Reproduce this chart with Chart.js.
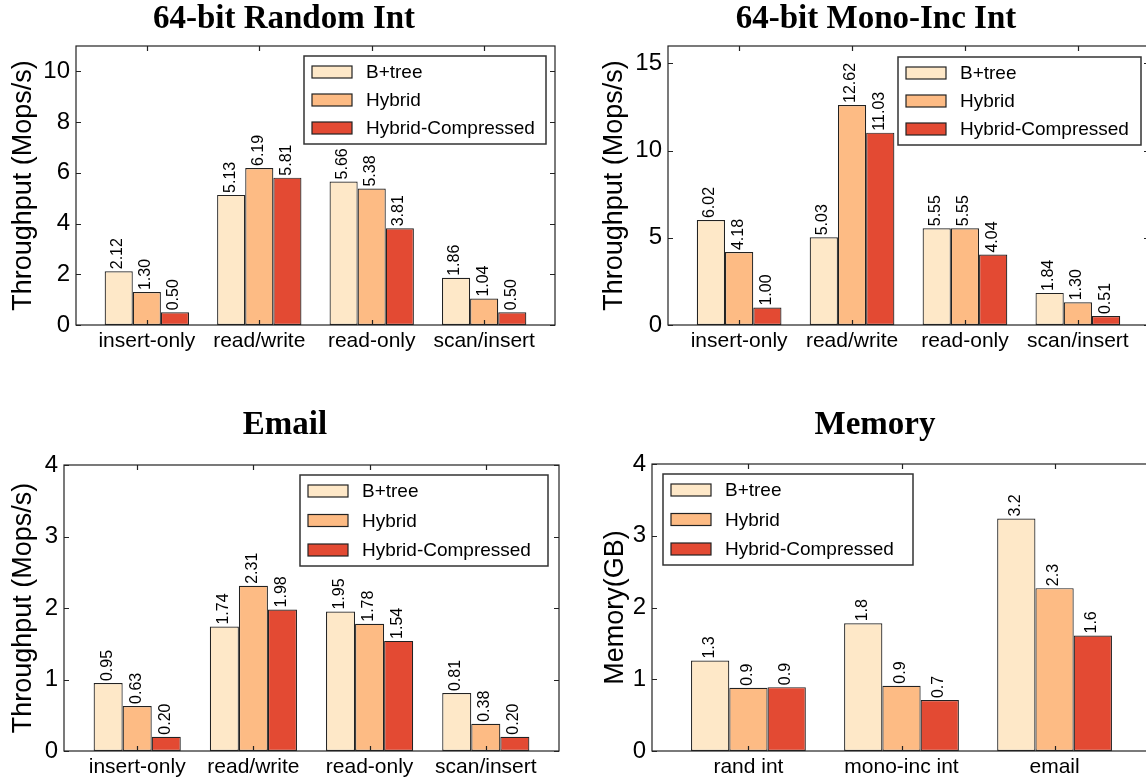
<!DOCTYPE html>
<html>
<head>
<meta charset="utf-8">
<script src="https://cdn.jsdelivr.net/npm/chart.js@4.4.0/dist/chart.umd.min.js"></script>
<style>
  html, body { margin: 0; padding: 0; background: #fff; overflow: hidden; width: 1146px; height: 777px; }
  canvas { position: absolute; }
</style>
</head>
<body>
<canvas id="c1"></canvas>
<canvas id="c2"></canvas>
<canvas id="c3"></canvas>
<canvas id="c4"></canvas>
<script>
// series
const seriesNames = ['B+tree', 'Hybrid', 'Hybrid-Compressed'];
const seriesColors = ['#fee8c8', '#fdbb84', '#e34a33'];

// categories
const workloads = ['insert-only', 'read/write', 'read-only', 'scan/insert'];
const memoryKeys = ['rand int', 'mono-inc int', 'email'];

// 64-bit random int throughput
const randBtree = [2.12, 5.13, 5.66, 1.86];
const randHybrid = [1.30, 6.19, 5.38, 1.04];
const randCompressed = [0.50, 5.81, 3.81, 0.50];

// 64-bit mono-inc int throughput
const monoBtree = [6.02, 5.03, 5.55, 1.84];
const monoHybrid = [4.18, 12.62, 5.55, 1.30];
const monoCompressed = [1.00, 11.03, 4.04, 0.51];

// email throughput
const emailBtree = [0.95, 1.74, 1.95, 0.81];
const emailHybrid = [0.63, 2.31, 1.78, 0.38];
const emailCompressed = [0.20, 1.98, 1.54, 0.20];

// memory (GB)
const memBtree = [1.26, 1.78, 3.24];
const memHybrid = [0.88, 0.91, 2.27];
const memCompressed = [0.89, 0.71, 1.61];

// y tick labels
const yTicksRand = [0, 2, 4, 6, 8, 10];
const yTicksMono = [0, 5, 10, 15];
const yTicksEmail = [0, 1, 2, 3, 4];
const yTicksMem = [0, 1, 2, 3, 4];

const SANS = '"Liberation Sans", Arial, sans-serif';
const SERIF = '"Liberation Serif", "Times New Roman", serif';

const panels = [
    {
        id: 'c1', title: '64-bit Random Int', yTitle: 'Throughput (Mops/s)',
        cats: workloads, series: [randBtree, randHybrid, randCompressed],
        yMax: 11, yTicks: yTicksRand, digits: 2,
        box: { left: 0, top: 0, width: 573, height: 390 },
        area: { left: 76, top: 46, right: 555, bottom: 325 },
        titleX: 284, titleY: 28, yTitleX: 24,
        legend: { x: 304, y: 56, w: 242, h: 88 },
    },
    {
        id: 'c2', title: '64-bit Mono-Inc Int', yTitle: 'Throughput (Mops/s)',
        cats: workloads, series: [monoBtree, monoHybrid, monoCompressed],
        yMax: 16, yTicks: yTicksMono, digits: 2,
        box: { left: 573, top: 0, width: 590, height: 390 },
        area: { left: 95, top: 46, right: 576, bottom: 325 },
        titleX: 303, titleY: 28, yTitleX: 42,
        legend: { x: 325, y: 57, w: 243, h: 88 },
    },
    {
        id: 'c3', title: 'Email', yTitle: 'Throughput (Mops/s)',
        cats: workloads, series: [emailBtree, emailHybrid, emailCompressed],
        yMax: 4, yTicks: yTicksEmail, digits: 2,
        box: { left: 0, top: 390, width: 573, height: 387 },
        area: { left: 64, top: 75, right: 559, bottom: 361 },
        titleX: 285, titleY: 44, yTitleX: 24,
        legend: { x: 300, y: 85, w: 248, h: 91 },
    },
    {
        id: 'c4', title: 'Memory', yTitle: 'Memory(GB)',
        cats: memoryKeys, series: [memBtree, memHybrid, memCompressed],
        yMax: 4, yTicks: yTicksMem, digits: 1,
        box: { left: 573, top: 390, width: 590, height: 387 },
        area: { left: 79, top: 74, right: 578, bottom: 361 },
        titleX: 302, titleY: 44, yTitleX: 43,
        legend: { x: 90, y: 84, w: 250, h: 91 },
    },
];

// frame, inward ticks, value labels, legend and title
const decorPlugin = {
    id: 'decor',
    afterDatasetsDraw(chart) {
        const p = chart.options.plugins.decor;
        const ctx = chart.ctx;
        ctx.save();
        ctx.fillStyle = '#000';
        ctx.font = '16px ' + SANS;
        ctx.textAlign = 'left';
        ctx.textBaseline = 'middle';
        chart.data.datasets.forEach((ds, i) => {
            chart.getDatasetMeta(i).data.forEach((bar, j) => {
                ctx.save();
                ctx.translate(bar.x - 1, bar.y - 2);
                ctx.rotate(-Math.PI / 2);
                ctx.fillText(ds.data[j].y.toFixed(p.digits), 0, 0);
                ctx.restore();
            });
        });
        ctx.restore();
    },
    afterDraw(chart) {
        const p = chart.options.plugins.decor;
        const ctx = chart.ctx;
        const a = chart.chartArea;
        const xs = chart.scales.x;
        const ys = chart.scales.y;
        ctx.save();
        ctx.strokeStyle = '#222';
        ctx.lineWidth = 1.2;
        ctx.strokeRect(a.left, a.top, a.right - a.left, a.bottom - a.top);
        ctx.beginPath();
        ys.ticks.forEach((t) => {
            const py = Math.round(ys.getPixelForValue(t.value)) + 0.5;
            ctx.moveTo(a.left, py); ctx.lineTo(a.left + 5, py);
            ctx.moveTo(a.right, py); ctx.lineTo(a.right - 5, py);
        });
        xs.ticks.forEach((t) => {
            const px = Math.round(xs.getPixelForValue(t.value)) + 0.5;
            ctx.moveTo(px, a.bottom); ctx.lineTo(px, a.bottom - 5);
            ctx.moveTo(px, a.top); ctx.lineTo(px, a.top + 5);
        });
        ctx.stroke();

        // legend
        const L = p.legend;
        ctx.fillStyle = '#fff';
        ctx.fillRect(L.x, L.y, L.w, L.h);
        ctx.strokeStyle = '#333';
        ctx.lineWidth = 1.5;
        ctx.strokeRect(L.x, L.y, L.w, L.h);
        const step = (L.h - 32) / 2;
        chart.data.datasets.forEach((ds, i) => {
            const cy = L.y + 16 + i * step;
            ctx.fillStyle = ds.backgroundColor;
            ctx.fillRect(L.x + 8, cy - 6, 40, 12);
            ctx.strokeStyle = '#222';
            ctx.lineWidth = 1.2;
            ctx.strokeRect(L.x + 8, cy - 6, 40, 12);
            ctx.fillStyle = '#000';
            ctx.font = '19px ' + SANS;
            ctx.textAlign = 'left';
            ctx.textBaseline = 'middle';
            ctx.fillText(ds.label, L.x + 62, cy + 1);
        });

        // title
        ctx.fillStyle = '#000';
        ctx.font = 'bold 33px ' + SERIF;
        ctx.textAlign = 'center';
        ctx.textBaseline = 'alphabetic';
        ctx.fillText(p.title, p.titleX, p.titleY);
        ctx.restore();
    },
};

panels.forEach((p) => {
    const canvas = document.getElementById(p.id);
    canvas.width = p.box.width;
    canvas.height = p.box.height;
    canvas.style.left = p.box.left + 'px';
    canvas.style.top = p.box.top + 'px';

    const yTitleSize = 27;
    new Chart(canvas, {
        type: 'bar',
        data: {
            datasets: p.series.map((vals, i) => ({
                label: seriesNames[i],
                data: vals.map((v, j) => ({ x: j, y: v })),
                backgroundColor: seriesColors[i],
                borderColor: '#222',
                borderWidth: 1.2,
                borderSkipped: false,
                categoryPercentage: 0.75,
                barPercentage: 1.0,
            })),
        },
        options: {
            responsive: false,
            animation: false,
            events: [],
            layout: {
                padding: {
                    left: 0,
                    top: p.area.top,
                    right: p.box.width - p.area.right,
                    bottom: 0,
                },
            },
            scales: {
                x: {
                    type: 'linear',
                    offset: false,
                    min: -0.63,
                    max: p.cats.length - 1 + 0.63,
                    grid: { display: false, drawTicks: false, offset: false },
                    border: { display: false },
                    afterFit: (s) => { s.height = p.box.height - p.area.bottom; },
                    afterBuildTicks: (s) => { s.ticks = p.cats.map((c, i) => ({ value: i })); },
                    ticks: {
                        color: '#000',
                        padding: 4,
                        maxRotation: 0,
                        autoSkip: false,
                        font: { family: SANS, size: 21 },
                        callback: (v) => p.cats[v],
                    },
                },
                y: {
                    min: 0,
                    max: p.yMax,
                    grid: { display: false, drawTicks: false },
                    border: { display: false },
                    afterFit: (s) => { s.width = p.area.left; },
                    afterBuildTicks: (s) => { s.ticks = p.yTicks.map((v) => ({ value: v })); },
                    ticks: {
                        color: '#000',
                        padding: 6,
                        font: { family: SANS, size: 24 },
                    },
                    title: {
                        display: true,
                        text: p.yTitle,
                        color: '#000',
                        font: { family: SANS, size: yTitleSize },
                        padding: { top: p.yTitleX - yTitleSize * 0.6, bottom: 0 },
                    },
                },
            },
            plugins: {
                legend: { display: false },
                tooltip: { enabled: false },
                decor: {
                    title: p.title,
                    titleX: p.titleX,
                    titleY: p.titleY,
                    digits: p.digits,
                    legend: p.legend,
                },
            },
        },
        plugins: [decorPlugin],
    });
});
</script>
</body>
</html>
